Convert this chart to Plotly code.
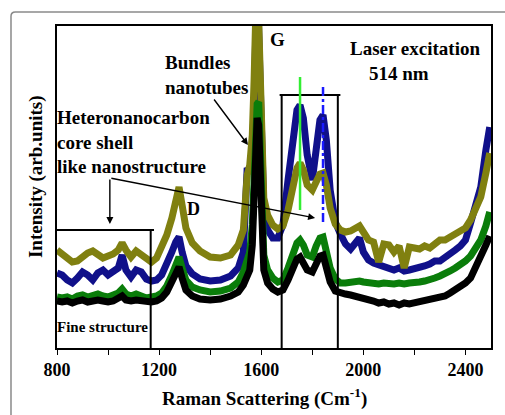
import plotly.graph_objects as go

raman_shift = [800, 820, 840, 860, 880, 900, 920, 940, 960, 980,
               1000, 1020, 1040, 1055, 1070, 1090, 1110, 1130, 1150, 1170,
               1190, 1210, 1230, 1250, 1265, 1278, 1290, 1305, 1330, 1360,
               1400, 1440, 1480, 1510, 1530, 1545, 1555, 1565, 1572, 1578,
               1584, 1590, 1596, 1602, 1610, 1625, 1645, 1665, 1685, 1705,
               1725, 1740, 1752, 1765, 1780, 1800, 1815, 1830, 1842, 1855,
               1870, 1890, 1910, 1930, 1950, 1970, 1985, 2000, 2020, 2040,
               2060, 2080, 2100, 2120, 2140, 2160, 2180, 2200, 2220, 2240,
               2260, 2280, 2300, 2320, 2340, 2360, 2380, 2400, 2420, 2440,
               2460, 2480, 2495]

olive_intensity = [98, 94, 90, 86, 87, 92, 95, 97, 93, 90,
                   92, 94, 98, 105, 98, 91, 97, 94, 89, 86,
                   90, 100, 113, 130, 148, 161, 143, 120, 105, 97,
                   91, 90, 93, 103, 118, 173, 183, 213, 268, 368,
                   388, 328, 258, 188, 150, 133, 123, 119, 122, 138,
                   163, 180, 185, 178, 163, 158, 166, 174, 175, 163,
                   140, 124, 118, 116, 117, 119, 122, 116, 108, 106,
                   86, 104, 103, 96, 102, 80, 101, 100, 99, 102,
                   100, 104, 108, 108, 111, 115, 116, 120, 128, 138,
                   151, 175, 195]

blue_intensity = [75, 73, 68, 65, 70, 76, 73, 68, 75, 78,
                  73, 76, 80, 93, 78, 71, 78, 76, 69, 67,
                  68, 73, 83, 96, 106, 111, 96, 82, 74, 69,
                  67, 68, 72, 80, 96, 180, 176, 198, 238, 308,
                  378, 318, 248, 178, 138, 118, 110, 110, 123, 168,
                  213, 238, 243, 230, 193, 168, 198, 228, 233, 208,
                  158, 126, 114, 104, 99, 104, 110, 96, 88, 85,
                  83, 81, 79, 78, 80, 77, 78, 79, 80, 82,
                  84, 87, 87, 90, 94, 98, 102, 108, 125, 141,
                  161, 198, 221]

green_intensity = [51, 50, 51, 49, 52, 53, 51, 52, 54, 52,
                   51, 53, 55, 59, 54, 52, 54, 52, 50, 51,
                   52, 55, 62, 73, 84, 91, 80, 68, 61, 58,
                   56, 57, 60, 66, 76, 86, 96, 123, 168, 218,
                   244, 246, 198, 128, 93, 78, 70, 66, 68, 80,
                   96, 105, 108, 103, 93, 91, 102, 110, 111, 98,
                   80, 69, 65, 65, 66, 67, 67, 66, 65, 65,
                   64, 65, 64, 64, 65, 64, 65, 65, 66, 67,
                   68, 70, 72, 74, 77, 80, 83, 87, 92, 99,
                   108, 122, 136]

black_intensity = [47, 46, 47, 45, 47, 48, 46, 47, 48, 47,
                   46, 47, 49, 52, 48, 47, 48, 47, 46, 46,
                   47, 50, 56, 66, 75, 81, 70, 58, 52, 49,
                   48, 49, 52, 56, 63, 70, 78, 103, 148, 198,
                   230, 223, 168, 108, 78, 65, 59, 56, 58, 68,
                   82, 89, 91, 86, 78, 76, 85, 92, 93, 82,
                   66, 57, 55, 54, 53, 52, 50, 49, 48, 47,
                   45, 46, 44, 45, 43, 45, 44, 45, 46, 47,
                   48, 49, 50, 52, 55, 58, 61, 65, 70, 80,
                   90, 103, 112]

series_names = ["blue", "olive", "green", "black"]
series_values = [blue_intensity, olive_intensity, green_intensity, black_intensity]
series_colors = ["#10108a", "#808010", "#0a7d0a", "#000000"]

x_tick_values = [800, 1000, 1200, 1400, 1600, 1800, 2000, 2200, 2400]
x_tick_labels = ["800", "", "1200", "", "1600", "", "2000", "", "2400"]

FONT = "Liberation Serif"

fig = go.Figure()
for name, vals, col in zip(series_names, series_values, series_colors):
    fig.add_trace(go.Scatter(x=raman_shift, y=vals, mode="lines", name=name,
                             line=dict(color=col, width=7), hoverinfo="skip"))

shapes = []
def seg(x0, y0, x1, y1, color="black", width=2, dash="solid"):
    shapes.append(dict(type="line", xref="x", yref="y", x0=x0, y0=y0, x1=x1, y1=y1,
                       line=dict(color=color, width=width, dash=dash)))

# fine structure box
seg(800, 118, 1180, 118)
seg(1167, 118, 1167, 0)
# middle box
seg(1672, 253, 1910, 253)
seg(1680, 253, 1680, 0)
seg(1900, 253, 1900, 0)
# markers of peak positions
seg(1752, 271, 1752, 138, color="#33ee33", width=2.5)
seg(1842, 261, 1842, 125, color="#1a1aff", width=2.5, dash="dashdot")

# outer rounded frame
shapes.append(dict(type="path", xref="paper", yref="paper",
                   path="M -0.106,-0.3 L -0.106,1.03 Q -0.106,1.0435 -0.096,1.0435 L 1.1,1.0435",
                   line=dict(color="#8a8a8a", width=1.5)))

def txt(text, x, y, size=19, xanchor="center", yanchor="middle", align="left", textangle=0):
    return dict(text=text, x=x, y=y, xref="paper", yref="paper", showarrow=False,
                xanchor=xanchor, yanchor=yanchor, align=align, textangle=textangle,
                font=dict(family=FONT, size=size, color="black"))

def arrow(x, y, ax, ay):
    return dict(text="", x=x, y=y, ax=ax, ay=ay, xref="x", yref="y", axref="x", ayref="y",
                showarrow=True, arrowhead=2, arrowsize=1, arrowwidth=1.4, arrowcolor="black")

annotations = [
    txt("<b>G</b>", 0.507, 0.9596),
    txt("<b>Laser excitation</b>", 0.826, 0.9286),
    txt("<b>514 nm</b>", 0.788, 0.854),
    txt("<b>Bundles<br>nanotubes</b>", 0.2442, 0.8478, xanchor="left"),
    txt("<b>Heteronanocarbon<br>core shell<br>like nanostructure</b>", -0.004, 0.6398, xanchor="left"),
    txt("<b>D</b>", 0.3134, 0.4317, size=18),
    txt("<b>Fine structure</b>", -0.004, 0.0652, size=15, xanchor="left"),
    txt("<b>Raman Scattering (Cm<sup>-1</sup>)</b>", 0.477, -0.155),
    txt("<b>Intensity (arb.units)</b>", -0.0484, 0.534, textangle=-90),
    arrow(1548, 203, 1411, 250),
    arrow(1007, 124, 1007, 170),
    arrow(1811, 130, 1007, 170),
]

fig.update_layout(
    width=505, height=415,
    margin=dict(l=57, r=14, t=26, b=67),
    paper_bgcolor="white", plot_bgcolor="white",
    showlegend=False,
    shapes=shapes,
    annotations=annotations,
    xaxis=dict(range=[800, 2500], showgrid=False, zeroline=False,
               showline=True, mirror=True, linecolor="black", linewidth=1.5,
               ticks="outside", ticklen=5, tickwidth=1.2, tickcolor="black",
               tickvals=x_tick_values, ticktext=x_tick_labels,
               tickfont=dict(family=FONT, size=18, color="black", weight="bold")),
    yaxis=dict(range=[0, 322], showgrid=False, zeroline=False,
               showline=True, mirror=True, linecolor="black", linewidth=1.5,
               ticks="", showticklabels=False),
)

fig.write_html("out.html")
